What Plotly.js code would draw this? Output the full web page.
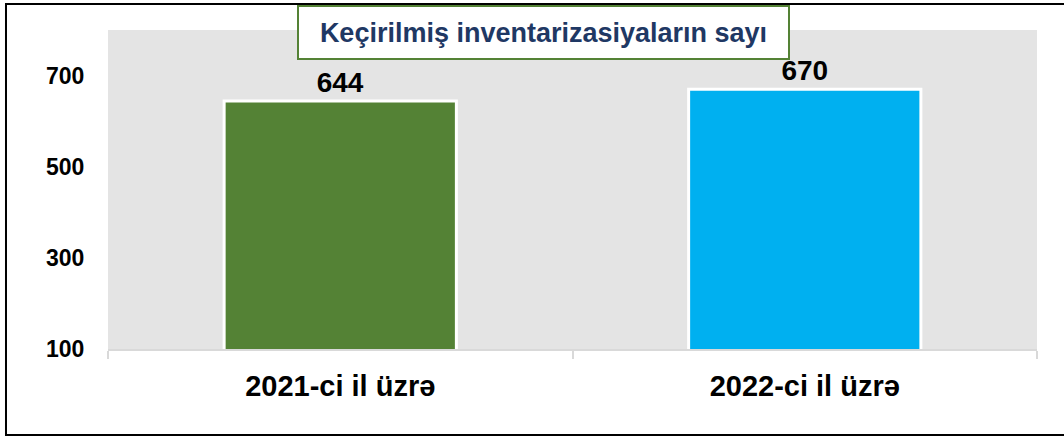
<!DOCTYPE html>
<html>
<head>
<meta charset="utf-8">
<script src="https://cdn.plot.ly/plotly-3.0.1.min.js"></script>
<style>
html,body{margin:0;padding:0;background:#fff;}
#chart{width:1064px;height:437px;}
</style>
</head>
<body>
<div id="chart"></div>
<script>
const categories = ["2021-ci il üzrə", "2022-ci il üzrə"];
const values = [644, 670];
const barColors = ["#548235", "#00B0F0"];
const yTicks = [100, 300, 500, 700];
const chartTitle = "Keçirilmiş inventarizasiyaların sayı";

const FONT = '"Liberation Sans", Arial, sans-serif';

const trace = {
  type: 'bar',
  x: categories,
  y: values,
  base: 0,
  width: 0.5,
  marker: {color: barColors, line: {color: '#ffffff', width: 3}},
  text: values.map(String),
  textposition: 'outside',
  cliponaxis: false,
  textfont: {family: FONT, size: 28, color: '#000000', weight: 'bold'},
  hoverinfo: 'none'
};

const layout = {
  width: 1064, height: 437,
  margin: {l: 108, r: 27, t: 30, b: 88, pad: 0},
  paper_bgcolor: '#ffffff',
  plot_bgcolor: '#E4E4E4',
  showlegend: false,
  bargap: 0.5,
  font: {family: FONT, color: '#000000'},
  xaxis: {
    type: 'category',
    showgrid: false, zeroline: false,
    showline: true, linecolor: '#D9D9D9', linewidth: 2,
    ticks: 'outside', tickson: 'boundaries', ticklen: 8, tickwidth: 2, tickcolor: '#D9D9D9',
    ticklabelstandoff: 10,
    tickfont: {family: FONT, size: 29, color: '#000000', weight: 'bold'},
    fixedrange: true
  },
  yaxis: {
    range: [100, 800],
    tickvals: yTicks,
    ticktext: yTicks.map(String),
    showgrid: false, zeroline: false, showline: false,
    ticks: 'outside', ticklen: 18, tickcolor: 'rgba(0,0,0,0)',
    tickfont: {family: FONT, size: 23, color: '#000000', weight: 'bold'},
    fixedrange: true
  },
  shapes: [
    {type: 'rect', xref: 'paper', yref: 'paper',
     x0: -0.1098, x1: 1.04, y0: -0.2696, y1: 1.0815,
     line: {color: '#000000', width: 2}, fillcolor: 'rgba(0,0,0,0)', layer: 'above'}
  ],
  annotations: [
    {xref: 'paper', yref: 'paper', x: 0.4688, y: 0.992,
     xanchor: 'center', yanchor: 'middle',
     text: '<b>' + chartTitle + '</b>', showarrow: false,
     font: {family: FONT, size: 27, color: '#1F3864'},
     width: 489, height: 51,
     bgcolor: '#ffffff', bordercolor: '#548235', borderwidth: 2, borderpad: 0}
  ]
};

Plotly.newPlot('chart', [trace], layout, {displayModeBar: false, staticPlot: true});
</script>
</body>
</html>
